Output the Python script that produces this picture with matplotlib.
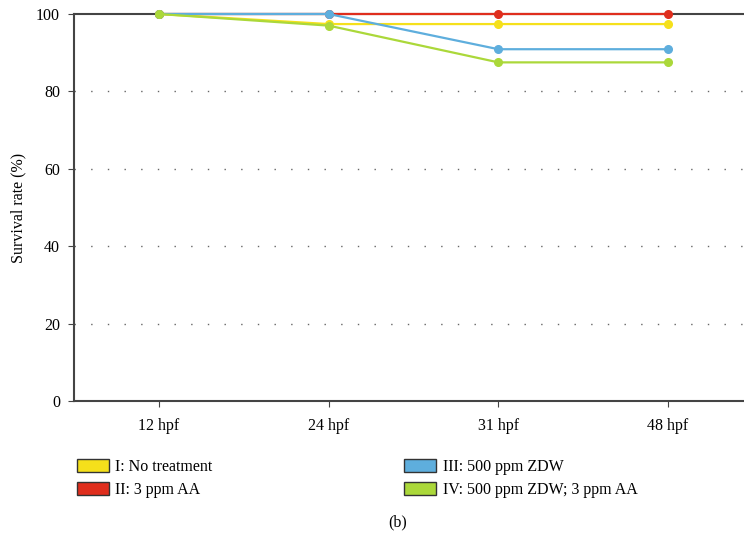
import matplotlib
matplotlib.use("Agg")
import matplotlib.pyplot as plt
from matplotlib.patches import Patch
import numpy as np

#====================================
# Data

categories = ["12 hpf", "24 hpf", "31 hpf", "48 hpf"]
labels = ["I: No treatment", "II: 3 ppm AA", "III: 500 ppm ZDW", "IV: 500 ppm ZDW; 3 ppm AA"]
no_treatment = [100, 97.4, 97.4, 97.4]
aa_3ppm = [100, 100, 100, 100]
zdw_500ppm = [100, 100, 90.9, 90.9]
zdw_aa = [100, 97.0, 87.5, 87.5]
yticks = [0, 20, 40, 60, 80, 100]

colors = ["#F5E01B", "#DF2E1D", "#5EAEDD", "#ABD83A"]

#====================================
# Plot

plt.rcParams['font.family'] = ['Liberation Serif', 'DejaVu Serif']

fig = plt.figure(figsize=(7.44, 5.45), dpi=100)
ax = fig.add_axes([74/744, 1-401/545, (753-74)/744, (401-14)/545])

x = np.arange(len(categories))
series = [no_treatment, aa_3ppm, zdw_500ppm, zdw_aa]
for s, c in zip(series, colors):
    ax.plot(x, s, color=c, lw=1.6, marker='o', ms=5.5, mec=c, clip_on=False, zorder=3)

ax.set_xlim(-0.5, 3.5)
ax.set_ylim(0, 100)
ax.set_xticks(x)
ax.set_xticklabels(categories)
ax.set_yticks(yticks)
ax.tick_params(labelsize=11.5, color="#444444", direction='out', length=4, pad=6)
ax.tick_params(axis='x', pad=8)

for yv in yticks[1:-1]:
    ax.axhline(yv, color="#666666", lw=1, ls=(0, (1, 11)), zorder=1)

for side in ['left', 'bottom', 'top']:
    ax.spines[side].set_color("#444444")
    ax.spines[side].set_linewidth(1.5)
ax.spines['right'].set_visible(False)
ax.spines['top'].set_zorder(2)

ax.set_ylabel("Survival rate (%)", fontsize=11.5, labelpad=7)

handles = [Patch(facecolor=c, edgecolor="#333333", lw=1) for c in colors]
fig.legend(handles, labels,
           ncol=2, loc='upper left', bbox_to_anchor=(77/744, 1-459/545),
           frameon=False, fontsize=11.5, handlelength=2.0, handleheight=0.9,
           handletextpad=0.4, labelspacing=0.42, columnspacing=12.0,
           borderpad=0, borderaxespad=0)

fig.text(398/744, 1-522/545, "(b)", ha='center', va='center', fontsize=11.5)

fig.savefig("out.png", dpi=100)
